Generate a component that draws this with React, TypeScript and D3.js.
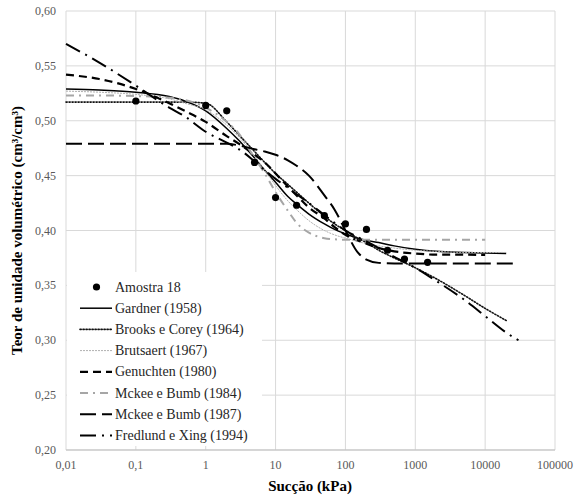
import React from "react";
import * as d3 from "d3";

// Suction grid (kPa)
const suction = [0.01, 0.03, 0.1, 0.3, 0.5, 1, 2, 3, 5, 7, 10, 15, 20, 30, 50, 70, 100, 150, 200, 300, 500, 1000, 2000, 5000, 10000, 20000, 30000];

const gardner = [0.529, 0.528, 0.526, 0.522, 0.518, 0.509, 0.493, 0.482, 0.466, 0.455, 0.444, 0.431, 0.424, 0.415, 0.406, 0.401, 0.397, 0.393, 0.391, 0.389, 0.386, 0.383, 0.381, 0.380, 0.3795, 0.379, null];
const brooks = [0.517, 0.517, 0.517, 0.517, 0.517, 0.516, 0.499, 0.487, 0.472, 0.462, 0.452, 0.442, 0.435, 0.425, 0.413, 0.406, 0.400, 0.393, 0.389, 0.382, 0.375, 0.366, 0.356, 0.341, 0.329, 0.318, null];
const brutsaert = [0.527, 0.526, 0.524, 0.520, 0.516, 0.510, 0.496, 0.485, 0.468, 0.455, 0.441, 0.427, 0.419, 0.409, 0.400, 0.396, 0.393, 0.390, 0.388, 0.386, 0.384, 0.382, 0.381, 0.380, 0.380, 0.380, null];
const genuchten = [0.542, 0.538, 0.529, 0.516, 0.509, 0.499, 0.486, 0.479, 0.469, 0.462, 0.452, 0.440, 0.432, 0.421, 0.411, 0.403, 0.396, 0.391, 0.388, 0.384, 0.381, 0.379, 0.378, 0.378, 0.3777, null, null];
const mckee1984 = [0.523, 0.523, 0.5225, 0.521, 0.519, 0.512, 0.499, 0.488, 0.466, 0.452, 0.435, 0.418, 0.407, 0.398, 0.393, 0.392, 0.3915, 0.3915, 0.3915, 0.3915, 0.3915, 0.3915, 0.3915, 0.3915, 0.3915, null, null];
const mckee1987 = [0.479, 0.479, 0.479, 0.479, 0.479, 0.479, 0.479, 0.4775, 0.474, 0.472, 0.469, 0.464, 0.459, 0.450, 0.432, 0.419, 0.400, 0.380, 0.3735, 0.3705, 0.370, 0.370, 0.370, 0.370, 0.370, 0.370, 0.370];
const fredlund = [0.570, 0.553, 0.532, 0.512, 0.504, 0.490, 0.480, 0.474, 0.463, 0.455, 0.447, 0.439, 0.433, 0.425, 0.414, 0.407, 0.400, 0.394, 0.390, 0.384, 0.376, 0.366, 0.354, 0.337, 0.322, 0.307, 0.300];

// Measured sample
const sampleSuction = [0.1, 1, 2, 5, 10, 20, 50, 100, 200, 400, 700, 1500];
const sampleTheta = [0.518, 0.514, 0.509, 0.462, 0.430, 0.423, 0.4135, 0.406, 0.401, 0.382, 0.374, 0.371];

const xTicks = [0.01, 0.1, 1, 10, 100, 1000, 10000, 100000];
const xTickLabels = ["0,01", "0,1", "1", "10", "100", "1000", "10000", "100000"];
const yTicks = [0.2, 0.25, 0.3, 0.35, 0.4, 0.45, 0.5, 0.55, 0.6];

const seriesNames = ["Gardner (1958)", "Brooks e Corey (1964)", "Brutsaert (1967)", "Genuchten (1980)", "Mckee e Bumb (1984)", "Mckee e Bumb (1987)", "Fredlund e Xing (1994)"];
const seriesValues = [gardner, brooks, brutsaert, genuchten, mckee1984, mckee1987, fredlund];
const seriesStyles = [
  { color: "#000", width: 1.5, dash: "" },
  { color: "#111", width: 1.6, dash: "1.2,1.8" },
  { color: "#b0b0b0", width: 1, dash: "2,1" },
  { color: "#000", width: 2.2, dash: "8,5" },
  { color: "#a6a6a6", width: 2, dash: "8,5,2,5" },
  { color: "#000", width: 2, dash: "16,6" },
  { color: "#000", width: 2, dash: "16,6,2,6" },
];

export default function App() {
  const left = 66, right = 555, top = 11, bottom = 450;
  const x = d3.scaleLog().domain([0.01, 100000]).range([left, right]);
  const y = d3.scaleLinear().domain([0.2, 0.6]).range([bottom, top]);

  const line = d3
    .line<[number, number | null]>()
    .defined((d) => d[1] !== null)
    .x((d) => x(d[0]))
    .y((d) => y(d[1] as number))
    .curve(d3.curveMonotoneX);

  const legendX = 67, legendY = 272, legendW = 195, legendH = 174;
  const rowY0 = 287, rowStep = 21.2;

  return (
    <svg width={581} height={498} style={{ position: "absolute", left: 0, top: 0, background: "#fff" }}>
      <style>{`.t { font-family: "Liberation Serif"; }`}</style>
      {/* gridlines */}
      {yTicks.map((t) => (
        <line key={"gy" + t} x1={left} x2={right} y1={y(t)} y2={y(t)} stroke="#d9d9d9" strokeWidth={1} />
      ))}
      {xTicks.map((t) => (
        <line key={"gx" + t} x1={x(t)} x2={x(t)} y1={top} y2={bottom} stroke="#d9d9d9" strokeWidth={1} />
      ))}
      <line x1={left} x2={right} y1={bottom} y2={bottom} stroke="#bfbfbf" strokeWidth={1} />

      {/* tick labels */}
      {yTicks.map((t) => (
        <text key={"ly" + t} className="t" x={56} y={y(t) + 4} textAnchor="end" fontSize={12} fill="#595959">
          {t.toFixed(2).replace(".", ",")}
        </text>
      ))}
      {xTicks.map((t, i) => (
        <text key={"lx" + t} className="t" x={x(t)} y={469} textAnchor="middle" fontSize={12} fill="#595959">
          {xTickLabels[i]}
        </text>
      ))}

      {/* axis titles */}
      <text className="t" x={310} y={491} textAnchor="middle" fontSize={15} fontWeight="bold" fill="#000">
        Sucção (kPa)
      </text>
      <text
        className="t"
        transform={`translate(22, ${(top + bottom) / 2}) rotate(-90)`}
        textAnchor="middle"
        fontSize={15}
        fontWeight="bold"
        fill="#000"
      >
        Teor de unidade volumétrico (cm³/cm³)
      </text>

      {/* curves */}
      {seriesValues.map((vals, i) => {
        const pts = suction.map((s, j) => [s, vals[j]] as [number, number | null]);
        const st = seriesStyles[i];
        return (
          <path
            key={"s" + i}
            d={line(pts) || ""}
            fill="none"
            stroke={st.color}
            strokeWidth={st.width}
            strokeDasharray={st.dash || undefined}
            strokeLinecap={i === 1 ? "round" : "butt"}
          />
        );
      })}

      {/* sample points */}
      {sampleSuction.map((s, i) => (
        <circle key={"p" + i} cx={x(s)} cy={y(sampleTheta[i])} r={3.6} fill="#000" />
      ))}

      {/* legend */}
      <rect x={legendX} y={legendY} width={legendW} height={legendH} fill="#fff" />
      <circle cx={96.5} cy={rowY0} r={3.6} fill="#000" />
      <text className="t" x={115} y={rowY0 + 4.5} fontSize={14} fill="#262626">
        Amostra 18
      </text>
      {seriesNames.map((name, i) => {
        const yy = rowY0 + (i + 1) * rowStep;
        const st = seriesStyles[i];
        return (
          <g key={"lg" + i}>
            <line
              x1={80}
              x2={112}
              y1={yy}
              y2={yy}
              stroke={st.color}
              strokeWidth={st.width}
              strokeDasharray={st.dash || undefined}
              strokeLinecap={i === 1 ? "round" : "butt"}
            />
            <text className="t" x={115} y={yy + 4.5} fontSize={14} fill="#262626">
              {name}
            </text>
          </g>
        );
      })}
    </svg>
  );
}
